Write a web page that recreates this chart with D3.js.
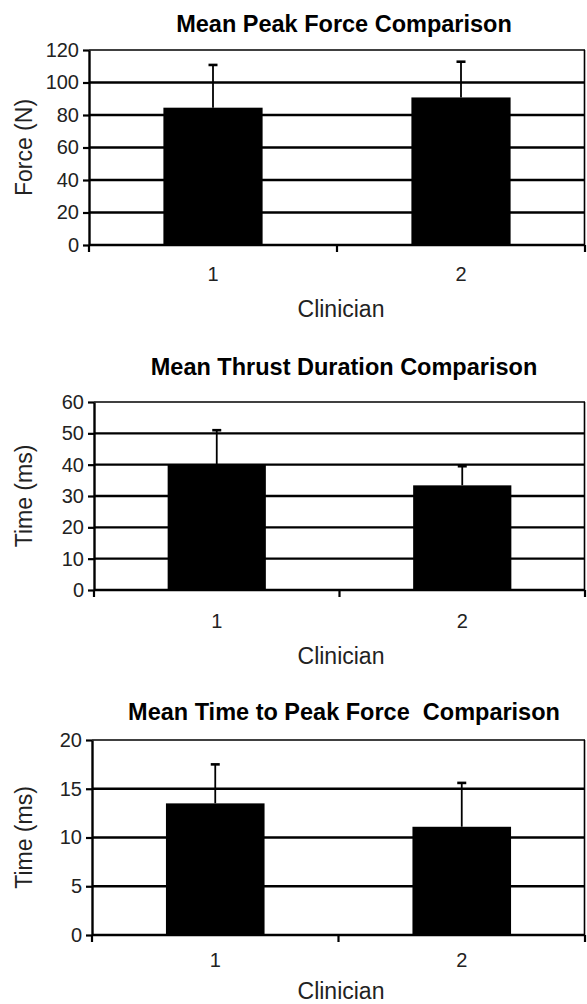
<!DOCTYPE html>
<html>
<head>
<meta charset="utf-8">
<script src="https://cdn.jsdelivr.net/npm/d3@7"></script>
<style>
  body { margin: 0; background: #fff; }
  svg { display: block; font-family: "Liberation Sans", Arial, sans-serif; }
</style>
</head>
<body>
<div id="vis"></div>
<script>
// Data
const clinicians = ["1", "2"];

const forceTitle = "Mean Peak Force Comparison";
const forceMean = [84.5, 90.8];
const forceSD = [26.3, 22.0];
const forceTicks = [0, 20, 40, 60, 80, 100, 120];

const durationTitle = "Mean Thrust Duration Comparison";
const durationMean = [40.0, 33.4];
const durationSD = [11.0, 6.1];
const durationTicks = [0, 10, 20, 30, 40, 50, 60];

const ttpTitle = "Mean Time to Peak Force  Comparison";
const ttpMean = [13.5, 11.1];
const ttpSD = [4.0, 4.5];
const ttpTicks = [0, 5, 10, 15, 20];

const svg = d3.select("#vis")
  .append("svg")
    .attr("width", 587)
    .attr("height", 1004);

// one panel
function drawPanel(opts) {
  const { title, yLabel, means, sds, ticks, left, top, bottom, right, titleY, catDy, labelDy } = opts;

  let x = d3.scaleBand()
    .domain(clinicians)
    .range([left, right])
    .paddingInner(0.6)
    .paddingOuter(0.3);
  let y = d3.scaleLinear()
    .domain([0, d3.max(ticks)])
    .range([bottom, top]);

  const g = svg.append("g");

  // gridlines
  g.append("g")
    .selectAll("line")
    .data(ticks.filter(t => t > 0))
    .join("line")
      .attr("x1", left).attr("x2", right)
      .attr("y1", d => y(d)).attr("y2", d => y(d))
      .attr("stroke", "#000")
      .attr("stroke-width", d => d === d3.max(ticks) ? 1.6 : 2.4);

  // right border
  g.append("line")
    .attr("x1", right - 0.5).attr("x2", right - 0.5)
    .attr("y1", top).attr("y2", bottom)
    .attr("stroke", "#000").attr("stroke-width", 1.6);

  const data = clinicians.map((c, i) => ({ c, mean: means[i], sd: sds[i] }));

  // error bars (upper only)
  g.append("g")
    .selectAll("line")
    .data(data)
    .join("line")
      .attr("x1", d => x(d.c) + x.bandwidth() / 2)
      .attr("x2", d => x(d.c) + x.bandwidth() / 2)
      .attr("y1", d => y(d.mean))
      .attr("y2", d => y(d.mean + d.sd))
      .attr("stroke", "#000").attr("stroke-width", 1.8);
  g.append("g")
    .selectAll("line")
    .data(data)
    .join("line")
      .attr("x1", d => x(d.c) + x.bandwidth() / 2 - 4.5)
      .attr("x2", d => x(d.c) + x.bandwidth() / 2 + 4.5)
      .attr("y1", d => y(d.mean + d.sd))
      .attr("y2", d => y(d.mean + d.sd))
      .attr("stroke", "#000").attr("stroke-width", 2.6);

  // bars
  g.append("g")
    .selectAll("rect")
    .data(data)
    .join("rect")
      .attr("x", d => x(d.c))
      .attr("width", x.bandwidth())
      .attr("y", d => y(d.mean))
      .attr("height", d => y(0) - y(d.mean))
      .attr("fill", "#000");

  // y axis
  const yAxis = g.append("g")
    .attr("transform", "translate(" + left + ",0)")
    .call(d3.axisLeft(y).tickValues(ticks).tickSize(6).tickPadding(4).tickSizeOuter(0));
  yAxis.select(".domain").attr("stroke-width", 2.4).attr("stroke", "#000");
  yAxis.selectAll(".tick line").attr("stroke-width", 2.2).attr("stroke", "#000");
  yAxis.selectAll(".tick text")
    .attr("font-size", 20).attr("font-family", "Liberation Sans, Arial, sans-serif")
    .attr("fill", "#222");

  // x axis: ticks between categories
  const bounds = [left, (left + right) / 2, right];
  g.append("line")
    .attr("x1", left).attr("x2", right)
    .attr("y1", y(0)).attr("y2", y(0))
    .attr("stroke", "#000").attr("stroke-width", 2.4);
  g.append("g")
    .selectAll("line")
    .data(bounds)
    .join("line")
      .attr("x1", d => d).attr("x2", d => d)
      .attr("y1", y(0)).attr("y2", y(0) + 7)
      .attr("stroke", "#000").attr("stroke-width", 2.2);
  g.append("g")
    .selectAll("text")
    .data(clinicians)
    .join("text")
      .attr("x", d => x(d) + x.bandwidth() / 2)
      .attr("y", y(0) + catDy)
      .attr("text-anchor", "middle")
      .attr("font-size", 20)
      .attr("fill", "#222")
      .text(d => d);

  // axis titles
  g.append("text")
    .attr("x", 341)
    .attr("y", y(0) + labelDy)
    .attr("text-anchor", "middle")
    .attr("font-size", 23)
    .attr("fill", "#222")
    .text("Clinician");

  g.append("text")
    .attr("transform", "translate(32," + ((top + bottom) / 2) + ") rotate(-90)")
    .attr("text-anchor", "middle")
    .attr("font-size", 23)
    .attr("fill", "#222")
    .text(yLabel);

  // chart title
  g.append("text")
    .attr("x", 344)
    .attr("y", titleY)
    .attr("text-anchor", "middle")
    .attr("font-size", 23.5)
    .attr("font-weight", "bold")
    .attr("fill", "#000")
    .style("white-space", "pre")
    .text(title);
}

drawPanel({ title: forceTitle, yLabel: "Force (N)", means: forceMean, sds: forceSD,
  ticks: forceTicks, left: 89, right: 585, top: 50, bottom: 245,
  titleY: 32, catDy: 36, labelDy: 72 });
drawPanel({ title: durationTitle, yLabel: "Time (ms)", means: durationMean, sds: durationSD,
  ticks: durationTicks, left: 94, right: 585, top: 402, bottom: 590,
  titleY: 375, catDy: 38, labelDy: 74 });
drawPanel({ title: ttpTitle, yLabel: "Time (ms)", means: ttpMean, sds: ttpSD,
  ticks: ttpTicks, left: 92, right: 585, top: 740, bottom: 935,
  titleY: 720, catDy: 32, labelDy: 64 });
</script>
</body>
</html>
